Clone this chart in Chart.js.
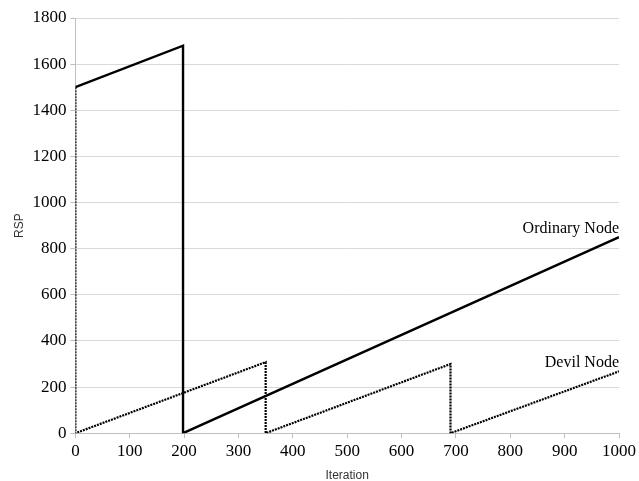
<!DOCTYPE html>
<html>
<head>
<meta charset="utf-8">
<script src="https://cdn.jsdelivr.net/npm/chart.js"></script>
<style>
  html, body { margin: 0; padding: 0; background: #fff; }
  #wrap { width: 639px; height: 481px; }
</style>
</head>
<body>
<div id="wrap"><canvas id="myChart"></canvas></div>
<script>
// values
const ordinaryX = [0, 198, 198, 1000];
const ordinaryY = [1500, 1680, 0, 850];
const devilX = [0, 0, 350, 350, 690, 690, 1000];
const devilY = [1500, 0, 308, 0, 300, 0, 268];
const xTicks = [0, 100, 200, 300, 400, 500, 600, 700, 800, 900, 1000];
const yTicks = [0, 200, 400, 600, 800, 1000, 1200, 1400, 1600, 1800];
const labels = [
  { text: 'Ordinary Node', x: 1000, y: 850 },
  { text: 'Devil Node', x: 1000, y: 272 }
];

function pts(xs, ys) {
  return xs.map((x, i) => ({ x: x, y: ys[i] }));
}

const lineLabels = {
  id: 'lineLabels',
  afterDatasetsDraw(chart) {
    const c = chart.ctx;
    c.save();
    c.font = '16px "Liberation Serif"';
    c.fillStyle = '#000';
    c.textAlign = 'right';
    c.textBaseline = 'bottom';
    labels.forEach(l => {
      c.fillText(l.text, chart.scales.x.getPixelForValue(l.x), chart.scales.y.getPixelForValue(l.y));
    });
    c.restore();
  }
};

const ctx = document.getElementById('myChart');
new Chart(ctx, {
  type: 'line',
  data: {
    datasets: [{
      label: 'Ordinary Node',
      data: pts(ordinaryX, ordinaryY),
      borderColor: '#000',
      borderWidth: 2.4,
      pointRadius: 0,
      tension: 0
    }, {
      label: 'Devil Node',
      data: pts(devilX, devilY),
      borderColor: '#000',
      borderWidth: 2.2,
      borderDash: [2, 1],
      pointRadius: 0,
      tension: 0
    }]
  },
  options: {
    responsive: true,
    maintainAspectRatio: false,
    animation: false,
    layout: { padding: { top: 18, right: 18, left: 8, bottom: -6 } },
    plugins: { legend: { display: false }, tooltip: { enabled: false } },
    scales: {
      x: {
        type: 'linear',
        min: 0, max: 1000,
        afterBuildTicks: s => { s.ticks = xTicks.map(v => ({ value: v })); },
        grid: { drawOnChartArea: false, color: '#bfbfbf', tickLength: 5 },
        border: { color: '#bfbfbf' },
        ticks: {
          color: '#000', font: { family: 'Liberation Serif', size: 17 }, padding: 3, maxRotation: 0,
          callback: v => String(v)
        },
        title: { display: true, text: 'Iteration', color: '#333', font: { family: 'Liberation Sans', size: 12 }, padding: { top: 4 } }
      },
      y: {
        min: 0, max: 1800,
        afterBuildTicks: s => {
          const t = [];
          for (let v = 0; v <= 1800; v += 100) t.push({ value: v });
          s.ticks = t;
        },
        grid: {
          color: c => (c.tick && c.tick.value % 200 === 0 && c.tick.value > 0) ? '#d9d9d9' : 'rgba(0,0,0,0)',
          tickColor: '#bfbfbf',
          tickLength: 5
        },
        border: { color: '#bfbfbf' },
        ticks: {
          color: '#000',
          font: { family: 'Liberation Serif', size: 17 },
          padding: 4,
          callback: v => yTicks.includes(v) ? String(v) : ''
        },
        title: { display: true, text: 'RSP', color: '#333', font: { family: 'Liberation Sans', size: 12 }, padding: { bottom: 2 } }
      }
    }
  },
  plugins: [lineLabels]
});
</script>
</body>
</html>
